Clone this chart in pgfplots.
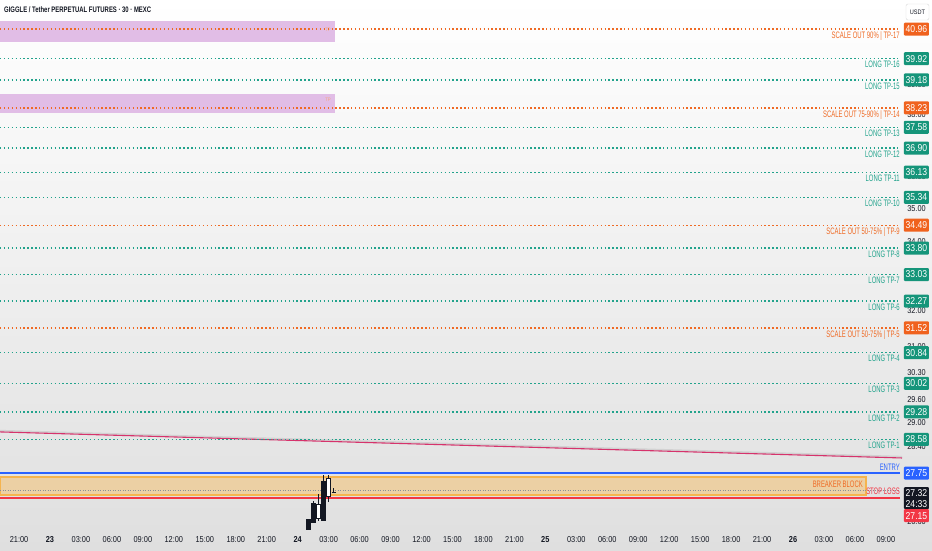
\documentclass[border=0pt]{standalone}
\usepackage{pgfplots}
\pgfplotsset{compat=1.18}
\usepackage{fontspec}
\setmainfont{Liberation Sans}
\newfontfamily\lblfont{Liberation Sans}[FakeStretch=0.63]
\newfontfamily\tickfont{Liberation Sans}[FakeStretch=0.86]
\newfontfamily\titlefont{Liberation Sans}[FakeStretch=0.74]

\definecolor{tvteal}{HTML}{22A38C}
\definecolor{tvtealbox}{HTML}{15957A}
\definecolor{tvorange}{HTML}{EF6A24}
\definecolor{tvorangebox}{HTML}{F0621E}
\definecolor{tvblue}{HTML}{2962FF}
\definecolor{tvred}{HTML}{F23645}
\definecolor{tvtext}{HTML}{131722}
\definecolor{tvgray}{HTML}{8A8D96}
\definecolor{lav}{HTML}{E1BDE6}
\definecolor{bbfill}{HTML}{ECD0A4}
\definecolor{bbedge}{HTML}{F5B44E}
\definecolor{pinkline}{HTML}{D6336C}
\definecolor{bgbot}{HTML}{DFDFDF}

% price tag on the right scale
\newcommand\pricetag[3]{%
  \node[fill=#2, text=white, font=\tickfont\fontsize{10}{11}\selectfont,
        inner sep=0pt, minimum width=25pt, minimum height=13pt,
        rounded corners=1pt] at (axis cs:83.96,#1) {#3};}

% dotted level with label and tag
\newcommand\level[3]{%
  \addplot[#2, line width=1.4pt, dash pattern=on 1.4pt off 2.5pt]
    coordinates {(-4.845,#1) (82.36,#1)};
  \node[anchor=north east, inner sep=0pt, yshift=-2.4pt, text=#2,
        font=\lblfont\fontsize{9.4}{10}\selectfont] at (axis cs:82.36,#1) {#3};
  \pricetag{#1}{#2box}{#1}}

% x, left, right, open, high, low, close, fill
\newcommand\candle[8]{%
  \addplot[tvtext, line width=0.9pt] coordinates {(#1,#6) (#1,#5)};
  \addplot[draw=tvtext, fill=#8, line width=0.7pt]
    coordinates {(#2,#4) (#3,#4) (#3,#7) (#2,#7)} -- cycle;}

\begin{document}
\begin{tikzpicture}
\shade[top color=white, bottom color=bgbot] (0pt,0pt) rectangle (932pt,550pt);

\begin{axis}[
  at={(0pt,20pt)}, anchor=south west,
  width=902pt, height=530pt, scale only axis,
  xmin=-4.845, xmax=82.56,
  ymode=log, ymin=26.40, ymax=42.02,
  clip=false,
  axis line style={draw=none},
  tick style={draw=none},
  /pgf/number format/assume math mode=true,
  xtick={-3,0,...,81},
  xticklabels={21:00,\textbf{23},03:00,06:00,09:00,12:00,15:00,18:00,21:00,
    \textbf{24},03:00,06:00,09:00,12:00,15:00,18:00,21:00,
    \textbf{25},03:00,06:00,09:00,12:00,15:00,18:00,21:00,
    \textbf{26},03:00,06:00,09:00},
  xticklabel style={anchor=center, yshift=-10pt, text=tvtext,
    font=\tickfont\fontsize{8.6}{9}\selectfont},
  ytick={26.6,28.4,29.0,29.6,30.3,31,32,34,35,36,38,39},
  yticklabels={26.60,28.40,29.00,29.60,30.30,31.00,32.00,34.00,35.00,
    36.00,38.00,39.00},
  yticklabel pos=right,
  yticklabel style={anchor=center, xshift=14.5pt, text=tvtext,
    font=\tickfont\fontsize{8.5}{9}\selectfont},
]

% target zones
\addplot[fill=lav, draw=none] coordinates
  {(-4.845,40.50) (27.6,40.50) (27.6,41.25) (-4.845,41.25)} -- cycle;
\addplot[fill=lav, draw=none] coordinates
  {(-4.845,38.07) (27.6,38.07) (27.6,38.71) (-4.845,38.71)} -- cycle;
\node[text=tvorange!60, font=\tickfont\fontsize{5}{5}\selectfont] at (axis cs:26.94,40.93) {TP};
\node[text=tvorange!60, font=\tickfont\fontsize{5}{5}\selectfont] at (axis cs:26.94,38.49) {TP};

% breaker block
\addplot[fill=bbfill, draw=bbedge, line width=1.5pt] coordinates
  {(-4.845,27.22) (79.07,27.22) (79.07,27.66) (-4.845,27.66)} -- cycle;
\node[anchor=east, inner sep=0pt, text=tvorange,
      font=\lblfont\fontsize{9.4}{10}\selectfont] at (axis cs:78.78,27.48) {BREAKER BLOCK};

% trend line
\addplot[gray!35, line width=1.8pt] coordinates {(-4.845,28.80) (82.56,28.15)};
\addplot[pinkline, line width=1.1pt] coordinates {(-4.845,28.77) (82.56,28.12)};

% levels
\level{40.96}{tvorange}{SCALE OUT 90\% | TP-17}
\level{39.92}{tvteal}{LONG TP-16}
\level{39.18}{tvteal}{LONG TP-15}
\level{38.23}{tvorange}{SCALE OUT 75-90\% | TP-14}
\level{37.58}{tvteal}{LONG TP-13}
\level{36.90}{tvteal}{LONG TP-12}
\level{36.13}{tvteal}{LONG TP-11}
\level{35.34}{tvteal}{LONG TP-10}
\level{34.49}{tvorange}{SCALE OUT 50-75\% | TP-9}
\level{33.80}{tvteal}{LONG TP-8}
\level{33.03}{tvteal}{LONG TP-7}
\level{32.27}{tvteal}{LONG TP-6}
\level{31.52}{tvorange}{SCALE OUT 50-75\% | TP-5}
\level{30.84}{tvteal}{LONG TP-4}
\level{30.02}{tvteal}{LONG TP-3}
\level{29.28}{tvteal}{LONG TP-2}
\level{28.58}{tvteal}{LONG TP-1}

% current price, entry, stop
\addplot[tvgray, line width=0.9pt, dash pattern=on 1pt off 1.5pt]
  coordinates {(-4.845,27.32) (82.36,27.32)};
\addplot[tvblue, line width=1.4pt] coordinates {(-4.845,27.75) (82.36,27.75)};
\addplot[tvred, line width=1.2pt] coordinates {(-4.845,27.15) (82.36,27.15)};
\node[anchor=south east, inner sep=0pt, yshift=2pt, text=tvblue,
      font=\lblfont\fontsize{9.4}{10}\selectfont] at (axis cs:82.36,27.75) {ENTRY};
\node[anchor=south east, inner sep=0pt, yshift=3.2pt, text=tvred,
      font=\lblfont\fontsize{9.4}{10}\selectfont] at (axis cs:82.36,27.15) {STOP LOSS};

% candles (30 min)
\candle{25.0}{24.82}{25.18}{26.65}{26.66}{26.42}{26.42}{tvtext}
\candle{25.5}{25.32}{25.68}{27.03}{27.08}{26.58}{26.58}{tvtext}
\candle{26.0}{25.82}{26.18}{26.68}{27.24}{26.61}{27.00}{white}
\candle{26.5}{26.32}{26.68}{27.56}{27.70}{26.63}{26.63}{tvtext}
\candle{27.0}{26.82}{27.18}{27.20}{27.70}{27.05}{27.63}{white}
\candle{27.5}{27.32}{27.68}{27.29}{27.39}{27.27}{27.28}{tvtext}

% price tags
\pricetag{27.75}{tvblue}{27.75}
\node[fill=tvtext, text=white, font=\tickfont\fontsize{10}{11}\selectfont,
      inner sep=0pt, minimum width=25pt, minimum height=22pt, align=center,
      anchor=north, yshift=4pt, rounded corners=1pt] at (axis cs:83.96,27.32) {27.32\\24:33};
\node[fill=tvred, text=white, font=\tickfont\fontsize{10}{11}\selectfont,
      inner sep=0pt, minimum width=25pt, minimum height=13pt,
      anchor=north, yshift=-11pt, rounded corners=1pt] at (axis cs:83.96,27.15) {27.15};
\end{axis}

\node[anchor=west, inner sep=0pt, text=tvtext,
      font=\titlefont\bfseries\fontsize{8}{9}\selectfont] at (4pt,540pt)
  {GIGGLE / Tether PERPETUAL FUTURES · 30 · MEXC};
\node[draw=gray!30, fill=white, rounded corners=2pt, inner sep=0pt,
      minimum width=23pt, minimum height=16pt, text=tvtext,
      font=\tickfont\fontsize{6.5}{7}\selectfont] at (917.5pt,538pt) {USDT};

\pgfresetboundingbox
\path[use as bounding box] (0pt,0pt) rectangle (932pt,550pt);
\end{tikzpicture}
\end{document}
